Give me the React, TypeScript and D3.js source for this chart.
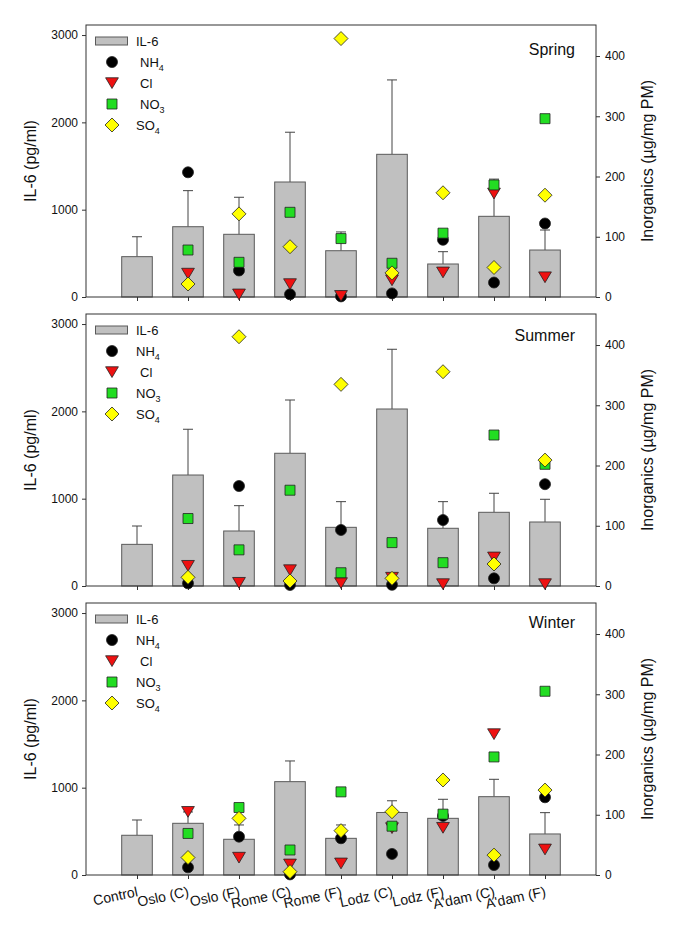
import React, { useEffect, useRef } from 'react';
import * as d3 from 'd3';

const categories = ['Control', 'Oslo (C)', 'Oslo (F)', 'Rome (C)', 'Rome (F)', 'Lodz (C)', 'Lodz (F)', "A'dam (C)", "A'dam (F)"];
const seasons = ['Spring', 'Summer', 'Winter'];

// IL-6 means and SD (pg/ml)
const springIL6 = [462, 805, 718, 1317, 530, 1634, 378, 924, 538];
const springSD = [228, 413, 424, 570, 215, 852, 141, 426, 229];
const summerIL6 = [477, 1271, 630, 1520, 672, 2027, 661, 844, 733];
const summerSD = [210, 524, 290, 610, 294, 684, 305, 218, 260];
const winterIL6 = [455, 592, 409, 1069, 420, 716, 649, 897, 470];
const winterSD = [175, 130, 164, 237, 153, 134, 218, 199, 244];

// inorganics (ug/mg PM), no value for control
const springNH4 = [null, 207, 44, 4.5, 1, 6, 95, 24, 122];
const springCl = [null, 39, 4.5, 21.6, 2, 28, 41, 172, 33];
const springNO3 = [null, 78, 57.6, 140.6, 97, 56, 106, 186, 296];
const springSO4 = [null, 21.6, 138, 83.5, 429, 40, 173, 49, 169];

const summerNH4 = [null, 4.4, 166, 1.7, 93, 2, 109.5, 12.7, 169];
const summerCl = [null, 33.7, 5.5, 26.5, 5, 14, 3.3, 47.6, 3.3];
const summerNO3 = [null, 112, 60, 159, 22, 72, 38.7, 250.6, 202];
const summerSO4 = [null, 14.4, 413.8, 8.3, 334.7, 12.7, 355.7, 36.5, 209];

const winterNH4 = [null, 12.7, 63.6, 1, 61, 35, 98, 16.6, 129];
const winterCl = [null, 105, 29, 17.7, 19.4, 78, 78.5, 234, 42.6];
const winterNO3 = [null, 69, 112, 41.5, 138, 81, 101, 196, 305];
const winterSO4 = [null, 29, 94, 5.5, 73.6, 105, 157.7, 33, 141];

const leftTicks = [0, 1000, 2000, 3000];
const rightTicks = [0, 100, 200, 300, 400];

// legend labels; a leading space shifts the label a little, as in the original
const springLegend = ['IL-6', ' NH|4', ' Cl', ' NO|3', 'SO|4'];
const otherLegend = ['IL-6', 'NH|4', ' Cl', 'NO|3', 'SO|4'];

const panels = [
  { name: seasons[0], il6: springIL6, sd: springSD, ions: [springNH4, springCl, springNO3, springSO4], legend: springLegend },
  { name: seasons[1], il6: summerIL6, sd: summerSD, ions: [summerNH4, summerCl, summerNO3, summerSO4], legend: otherLegend },
  { name: seasons[2], il6: winterIL6, sd: winterSD, ions: [winterNH4, winterCl, winterNO3, winterSO4], legend: otherLegend },
];

const circleType = {
  draw(ctx: any, r: number) {
    ctx.moveTo(r, 0);
    ctx.arc(0, 0, r, 0, 2 * Math.PI);
  },
};
const triangleType = {
  draw(ctx: any, r: number) {
    ctx.moveTo(-r * 1.1, -r * 0.9);
    ctx.lineTo(r * 1.1, -r * 0.9);
    ctx.lineTo(0, r * 0.95);
    ctx.closePath();
  },
};
const squareType = {
  draw(ctx: any, r: number) {
    ctx.rect(-r, -r, 2 * r, 2 * r);
  },
};
const diamondType = {
  draw(ctx: any, r: number) {
    ctx.moveTo(0, -r);
    ctx.lineTo(r, 0);
    ctx.lineTo(0, r);
    ctx.lineTo(-r, 0);
    ctx.closePath();
  },
};

const markers = [
  { type: circleType, size: 5.5, fill: '#000000' },
  { type: triangleType, size: 5.8, fill: '#ee1111' },
  { type: squareType, size: 5, fill: '#22dd22' },
  { type: diamondType, size: 7, fill: '#ffff00' },
];

export default function App() {
  const svgRef = useRef<SVGSVGElement>(null);

  useEffect(() => {
    if (!svgRef.current) return;
    const svg = d3.select(svgRef.current);
    svg.selectAll('*').remove();

    const left = 86;
    const right = 596;
    const panelH = 272;
    const tops = [25, 314, 603];
    const titleDy = [30, 27, 25];

    const x = d3.scalePoint<string>().domain(categories).range([left, right]).padding(1);
    const barW = x.step() * 0.6;
    const capW = 10;

    panels.forEach((p, pi) => {
      const top = tops[pi];
      const bottom = top + panelH;
      const yL = d3.scaleLinear().domain([0, 3115]).range([bottom, top]);
      const yR = d3.scaleLinear().domain([0, 451.5]).range([bottom, top]);
      const g = svg.append('g');

      // error bars (upper only)
      const eb = g
        .selectAll('.err')
        .data(categories)
        .enter()
        .append('g')
        .attr('stroke', '#444')
        .attr('stroke-width', 1);
      eb.append('line')
        .attr('x1', (d) => x(d)!)
        .attr('x2', (d) => x(d)!)
        .attr('y1', (d, i) => yL(p.il6[i]))
        .attr('y2', (d, i) => yL(p.il6[i] + p.sd[i]));
      eb.append('line')
        .attr('x1', (d) => x(d)! - capW / 2)
        .attr('x2', (d) => x(d)! + capW / 2)
        .attr('y1', (d, i) => yL(p.il6[i] + p.sd[i]))
        .attr('y2', (d, i) => yL(p.il6[i] + p.sd[i]));

      // bars
      g.selectAll('.bar')
        .data(categories)
        .enter()
        .append('rect')
        .attr('x', (d) => x(d)! - barW / 2)
        .attr('y', (d, i) => yL(p.il6[i]))
        .attr('width', barW)
        .attr('height', (d, i) => yL(0) - yL(p.il6[i]))
        .attr('fill', '#c0c0c0')
        .attr('stroke', '#5a5a5a')
        .attr('stroke-width', 1);

      // frame
      g.append('rect')
        .attr('x', left)
        .attr('y', top)
        .attr('width', right - left)
        .attr('height', panelH)
        .attr('fill', 'none')
        .attr('stroke', '#333')
        .attr('stroke-width', 1);

      // axes
      const axL = g
        .append('g')
        .attr('transform', `translate(${left},0)`)
        .call(d3.axisLeft(yL).tickValues(leftTicks).tickSize(4).tickPadding(4).tickFormat(d3.format('d')));
      const axR = g
        .append('g')
        .attr('transform', `translate(${right},0)`)
        .call(d3.axisRight(yR).tickValues(rightTicks).tickSize(4).tickPadding(5).tickFormat(d3.format('d')));
      const axB = g
        .append('g')
        .attr('transform', `translate(0,${bottom})`)
        .call(d3.axisBottom(x).tickSize(4).tickFormat(pi === 2 ? (d) => d : () => ''));
      [axL, axR, axB].forEach((a) => {
        a.select('.domain').remove();
        a.selectAll('line').attr('stroke', '#333');
        a.attr('font-size', null).attr('font-family', null);
        a.selectAll('text').attr('fill', '#111').style('font-size', '12px');
      });
      if (pi === 2) {
        axB.selectAll('text')
          .attr('y', 0)
          .attr('dy', 0)
          .attr('text-anchor', 'end')
          .attr('transform', 'translate(1,21) rotate(-12)')
          .style('font-size', '14px');
      }

      // axis titles
      g.append('text')
        .attr('transform', `translate(36,${(top + bottom) / 2}) rotate(-90)`)
        .attr('text-anchor', 'middle')
        .style('font-size', '16px')
        .attr('fill', '#111')
        .text('IL-6 (pg/ml)');
      g.append('text')
        .attr('transform', `translate(652.5,${(top + bottom) / 2}) rotate(-90)`)
        .attr('text-anchor', 'middle')
        .style('font-size', '16px')
        .attr('fill', '#111')
        .text('Inorganics (µg/mg PM)');

      // season label
      g.append('text')
        .attr('x', 575)
        .attr('y', top + titleDy[pi])
        .attr('text-anchor', 'end')
        .style('font-size', '16px')
        .attr('fill', '#111')
        .text(p.name);

      // inorganic markers
      p.ions.forEach((vals, si) => {
        const m = markers[si];
        const sym = d3.symbol().type(m.type as any).size(m.size);
        g.selectAll(`.ion${si}`)
          .data(categories.filter((c, i) => vals[i] != null))
          .enter()
          .append('path')
          .attr('transform', (d) => `translate(${x(d)},${yR(vals[categories.indexOf(d)] as number)})`)
          .attr('d', sym()!)
          .attr('fill', m.fill)
          .attr('stroke', '#222')
          .attr('stroke-width', 0.8);
      });

      // legend
      const legX = 112;
      const rowY = (i: number) => top + 16 + 21 * i;
      g.append('rect')
        .attr('x', 95.5)
        .attr('y', rowY(0) - 4)
        .attr('width', 32)
        .attr('height', 8)
        .attr('fill', '#c0c0c0')
        .attr('stroke', '#5a5a5a');
      markers.forEach((m, i) => {
        g.append('path')
          .attr('transform', `translate(${legX},${rowY(i + 1)})`)
          .attr('d', d3.symbol().type(m.type as any).size(m.size)()!)
          .attr('fill', m.fill)
          .attr('stroke', '#222')
          .attr('stroke-width', 0.8);
      });
      p.legend.forEach((lab, i) => {
        const shift = lab.startsWith(' ') ? 4 : 0;
        const [main, sub] = lab.trim().split('|');
        const t = g
          .append('text')
          .attr('x', 136 + shift)
          .attr('y', rowY(i) + 4.5)
          .style('font-size', '13px')
          .attr('fill', '#111');
        t.append('tspan').text(main);
        if (sub) t.append('tspan').attr('dy', 4).style('font-size', '9px').text(sub);
      });
    });
  }, []);

  return (
    <svg
      ref={svgRef}
      width={685}
      height={926}
      style={{ position: 'absolute', left: 0, top: 0, background: '#fff', fontFamily: 'Liberation Sans, Arial, sans-serif' }}
    />
  );
}
